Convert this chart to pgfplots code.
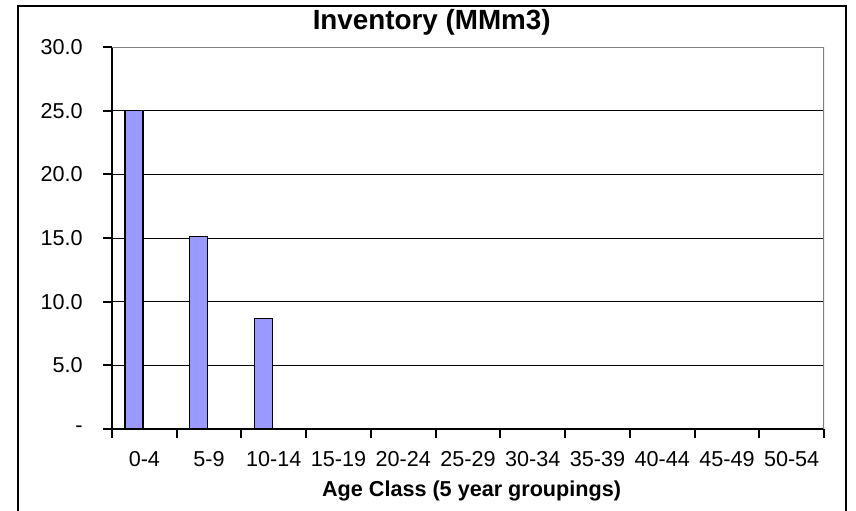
\documentclass[border=0pt]{standalone}
\usepackage{fontspec}
\setmainfont{Liberation Sans}
\usepackage{pgfplots}
\pgfplotsset{compat=1.18}
\definecolor{barfill}{HTML}{9999FF}
\definecolor{bordergray}{HTML}{808080}
\begin{document}
\begin{tikzpicture}
\useasboundingbox (-56pt,-40.5pt) rectangle (372pt,214.5pt);
\draw[line width=1pt] (-47pt,-45pt) -- (-47pt,211.5pt) -- (367pt,211.5pt) -- (367pt,-45pt);
\begin{axis}[
  at={(0pt,0pt)}, anchor=south west,
  scale only axis, width=356pt, height=191pt,
  xmin=-0.5, xmax=10.5, ymin=0, ymax=30,
  ybar, bar width=0.28, bar shift=-0.16,
  axis x line*=bottom, axis y line*=left,
  axis line style={black, line width=1pt, -},
  ytick={0,5,...,30},
  yticklabels={{-\hspace{12pt}},5.0,10.0,15.0,20.0,25.0,30.0},
  ymajorgrids, major grid style={black, line width=0.5pt},
  xtick={0,...,10},
  xticklabels={0-4,5-9,10-14,15-19,20-24,25-29,30-34,35-39,40-44,45-49,50-54},
  minor xtick={-0.5,0.5,...,10.5},
  tick align=outside,
  major tick length=4.5pt, minor tick length=4.5pt,
  tick style={black, line width=1pt},
  major x tick style={draw=none},
  tick label style={font=\fontsize{10.8pt}{13pt}\selectfont},
  yticklabel style={anchor=east, inner sep=0pt, xshift=-10pt},
  xticklabel style={anchor=base, inner sep=0pt, yshift=-14pt},
  title={Inventory (MMm3)},
  title style={at={(axis description cs:0.449,1)}, anchor=base, yshift=2.65pt, inner sep=0pt, font=\fontsize{13.9pt}{16pt}\selectfont\bfseries},
  xlabel={Age Class (5 year groupings)},
  xlabel style={at={(axis description cs:0.505,0)}, anchor=base, yshift=-33.9pt, inner sep=0pt, font=\fontsize{10.8pt}{13pt}\selectfont\bfseries},
]
\addplot[fill=barfill, draw=black, line width=0.6pt] coordinates {
  (0,25.0) (1,15.1) (2,8.7) (3,0) (4,0) (5,0) (6,0) (7,0) (8,0) (9,0) (10,0)
};
\draw[bordergray, line width=1pt] (rel axis cs:0,1) -- (rel axis cs:1,1) -- (rel axis cs:1,0);
\end{axis}
\end{tikzpicture}
\end{document}
